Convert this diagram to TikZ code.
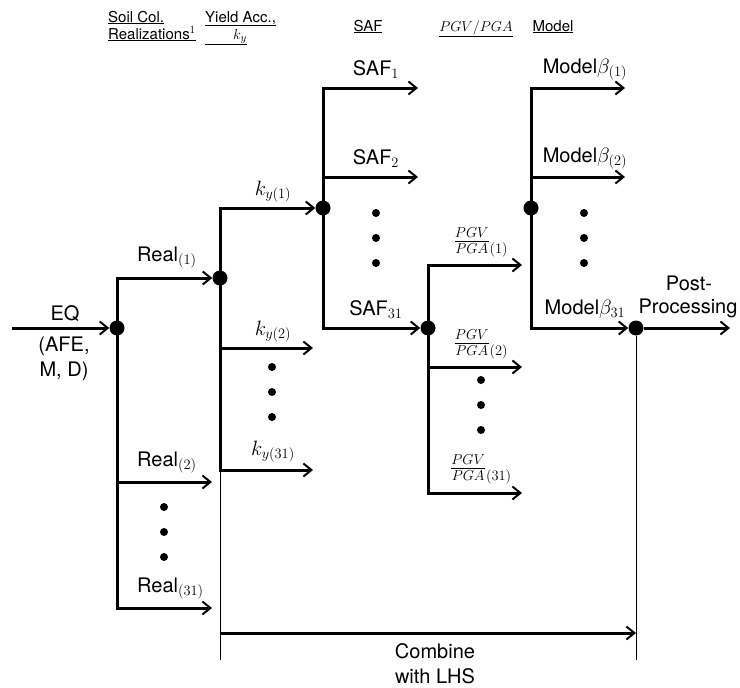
\documentclass[tikz,border=0pt]{standalone}
\usepackage{fontspec}
\setmainfont{TeX Gyre Heros}
\usetikzlibrary{arrows.meta}
\begin{document}
\begin{tikzpicture}[x=1pt,y=-1pt,
  junc/.style={circle,fill=black,inner sep=0pt,minimum size=15pt},
  edot/.style={circle,fill=black,inner sep=0pt,minimum size=8pt},
  flow/.style={line width=3pt,-{Straight Barb[length=8pt,width=13pt,line width=2pt]}},
  bar/.style={line width=3pt,line cap=rect},
  hair/.style={line width=1pt},
  lbl/.style={font=\fontsize{20}{24}\selectfont,anchor=base,inner sep=0pt},
  hdr/.style={font=\fontsize{15}{17}\selectfont,anchor=base west,inner sep=0pt},
]
\useasboundingbox[fill=white] (0,0) rectangle (740,688);

% junctions
\node[junc] (j1) at (117,328) {};
\node[junc] (j2) at (220,278) {};
\node[junc] (j3) at (323,208) {};
\node[junc] (j4) at (428,328) {};
\node[junc] (j5) at (531,208) {};
\node[junc] (j6) at (636,328) {};

% coordinates
\coordinate (in) at (12,328);
\coordinate (c1t) at (117,278); \coordinate (c1m) at (117,482); \coordinate (c1b) at (117,608);
\coordinate (r2) at (212,482); \coordinate (r31) at (212,608);
\coordinate (c2t) at (220,208); \coordinate (c2m) at (220,348); \coordinate (c2b) at (220,470); \coordinate (c2e) at (220,660);
\coordinate (k2) at (313,348); \coordinate (k31) at (313,470);
\coordinate (c3t) at (323,88); \coordinate (c3m) at (323,177); \coordinate (c3b) at (323,328);
\coordinate (s1) at (418,88); \coordinate (s2) at (418,177);
\coordinate (c4t) at (428,265); \coordinate (c4m) at (428,367); \coordinate (c4b) at (428,493);
\coordinate (p1) at (522,265); \coordinate (p2) at (522,367); \coordinate (p31) at (522,493);
\coordinate (c5t) at (531,88); \coordinate (c5m) at (531,177); \coordinate (c5b) at (531,328);
\coordinate (m1) at (625,88); \coordinate (m2) at (625,177);
\coordinate (pp) at (730,328); \coordinate (c6e) at (636,660);
\coordinate (cb0) at (220,633); \coordinate (cb1) at (636,633);

% connectors
\draw[flow] (in) -- (j1);
\draw[bar] (c1t) -- (c1b);
\draw[flow] (c1t) -- (j2);
\draw[flow] (c1m) -- (r2);
\draw[flow] (c1b) -- (r31);

\draw[bar] (c2t) -- (c2b);
\draw[flow] (c2t) -- (j3);
\draw[flow] (c2m) -- (k2);
\draw[flow] (c2b) -- (k31);
\draw[hair] (c2b) -- (c2e);

\draw[bar] (c3t) -- (c3b);
\draw[flow] (c3t) -- (s1);
\draw[flow] (c3m) -- (s2);
\draw[flow] (c3b) -- (j4);

\draw[bar] (c4t) -- (c4b);
\draw[flow] (c4t) -- (p1);
\draw[flow] (c4m) -- (p2);
\draw[flow] (c4b) -- (p31);

\draw[bar] (c5t) -- (c5b);
\draw[flow] (c5t) -- (m1);
\draw[flow] (c5m) -- (m2);
\draw[flow] (c5b) -- (j6);

\draw[flow] (j6) -- (pp);
\draw[hair] (j6) -- (c6e);
\draw[flow] (cb0) -- (cb1);

% ellipsis dots
\foreach \n/\x/\y in {a1/164/507,a2/164/532,a3/164/557,
  b1/272/367,b2/272/392,b3/272/417,
  c1/376/213,c2/376/238,c3/376/263,
  d1/481/380,d2/481/405,d3/481/430,
  e1/584/213,e2/584/238,e3/584/263}
  \node[edot] (dot\n) at (\x,\y) {};

% labels
\node[lbl] (leq) at (65,320) {EQ};
\node[lbl] (lafe) at (64,351) {(AFE,};
\node[lbl] (lmd) at (64,376) {M, D)};
\node[lbl,anchor=base west] (lr1) at (137,261) {Real$_{(1)}$};
\node[lbl,anchor=base west] (lr2) at (137,466) {Real$_{(2)}$};
\node[lbl,anchor=base west] (lr31) at (137,592) {Real$_{(31)}$};
\node[lbl] (lk1) at (273,195) {$k_{y(1)}$};
\node[lbl] (lk2) at (273,335) {$k_{y(2)}$};
\node[lbl] (lk31) at (273,455) {$k_{y(31)}$};
\node[lbl] (ls1) at (376,75) {SAF$_1$};
\node[lbl] (ls2) at (376,164) {SAF$_2$};
\node[lbl] (ls31) at (376,315) {SAF$_{31}$};
\node[lbl] (lp1) at (481,246) {$\frac{PGV}{PGA}_{(1)}$};
\node[lbl] (lp2) at (481,348) {$\frac{PGV}{PGA}_{(2)}$};
\node[lbl] (lp31) at (481,473) {$\frac{PGV}{PGA}_{(31)}$};
\node[lbl] (lm1) at (585,73) {Model$\beta_{(1)}$};
\node[lbl] (lm2) at (585,162) {Model$\beta_{(2)}$};
\node[lbl] (lm31) at (585,314) {Model$\beta_{31}$};
\node[lbl] (lpost) at (689,290) {Post-};
\node[lbl] (lproc) at (688,313) {Processing};
\node[lbl] (lcomb) at (435,658) {Combine};
\node[lbl] (llhs) at (435,683) {with LHS};

% header
\node[hdr] (h1a) at (108,22) {\underline{Soil Col.}};
\node[hdr] (h1b) at (108,39) {\underline{Realizations$^1$}};
\node[hdr] (h2a) at (205,22) {\underline{Yield Acc.,}};
\node[hdr] (h2b) at (205,39) {\underline{\hspace{28pt}$k_y$}};
\node[hdr,anchor=base] (h3) at (368,31) {\underline{SAF}};
\node[hdr,anchor=base] (h4) at (476,31) {\underline{$PGV/PGA$}};
\node[hdr,anchor=base] (h5) at (553,31) {\underline{Model}};
\end{tikzpicture}
\end{document}
